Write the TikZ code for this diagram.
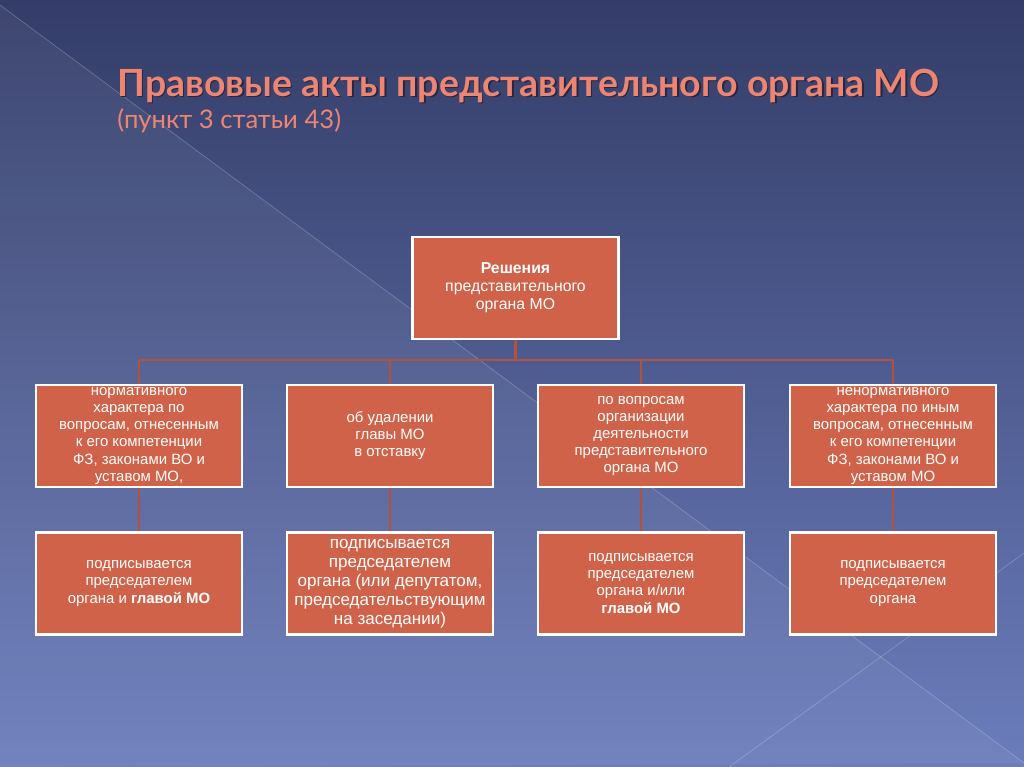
\documentclass[tikz,border=0pt]{standalone}
\usepackage{fontspec}
\setmainfont{Liberation Sans}
\newfontfamily\titlefont{Lato}
\usepackage{tikz}
\usetikzlibrary{positioning}

\definecolor{slidetop}{HTML}{343D68}
\definecolor{slidebottom}{HTML}{6B7DBC}
\definecolor{boxfill}{HTML}{CF6249}
\definecolor{linkred}{HTML}{B5503F}
\definecolor{titlered}{HTML}{EC8572}
\definecolor{titleshade}{HTML}{2A2540}

\tikzset{
  actbox/.style={draw=white, line width=1.6pt, fill=boxfill, text=white,
    minimum width=4.12cm, minimum height=2.04cm, inner sep=1pt, align=center,
    font=\fontsize{8.5}{9.7}\selectfont},
  link/.style={draw=linkred, line width=1.6pt},
  deco/.style={draw=white, opacity=0.22, line width=0.4pt},
  headline/.style={anchor=base west, inner sep=0pt}
}

\begin{document}
\begin{tikzpicture}[x=0.02cm, y=-0.02cm]
    % slide background
    \shade[top color=slidetop, bottom color=slidebottom] (0,0) rectangle (1024,767);
    \useasboundingbox (0,0) rectangle (1024,767);

    % lighter wedge and the thin lines over it
    \fill[white, opacity=0.05] (0,5) -- (1024,763) -- (0,767) -- cycle;
    \draw[deco] (0,5) -- (1024,763);
    \draw[deco] (1024,553) -- (729,767);

    % title with its shadow
    \node[headline, text=titleshade, font=\titlefont\bfseries\fontsize{21.3}{25}\selectfont] (titleshadow) at (118.5,97.5) {Правовые акты представительного органа МО};
    \node[headline, text=titlered, font=\titlefont\bfseries\fontsize{21.3}{25}\selectfont] (title) at (117,96) {Правовые акты представительного органа МО};
    \node[headline, text=titlered, font=\titlefont\fontsize{14.6}{17}\selectfont] (subtitle) at (117,129) {(пункт 3 статьи 43)};

    % the top box
    \node[actbox, font=\fontsize{9}{10.3}\selectfont] (decision) at (515.5,288) {\textbf{Решения}\\представительного\\органа МО};

    % four kinds of decisions
    \node[actbox] (normative) at (139,436) {нормативного\\характера по\\вопросам, отнесенным\\к его компетенции\\ФЗ, законами ВО и\\уставом МО,};
    \node[actbox] (dismissal) at (390,436) {об удалении\\главы МО\\в отставку};
    \node[actbox] (activity) at (641,436) {по вопросам\\организации\\деятельности\\представительного\\органа МО};
    \node[actbox] (nonnormative) at (893,436) {ненормативного\\характера по иным\\вопросам, отнесенным\\к его компетенции\\ФЗ, законами ВО и\\уставом МО};

    % who signs each of them
    \node[actbox] (normsign) at (139,583.5) {подписывается\\председателем\\органа и \textbf{главой МО}};
    \node[actbox, font=\fontsize{9.7}{10.9}\selectfont] (dismisssign) at (390,583.5) {подписывается\\председателем\\органа (или депутатом,\\председательствующим\\на заседании)};
    \node[actbox] (activitysign) at (641,583.5) {подписывается\\председателем\\органа и/или\\\textbf{главой МО}};
    \node[actbox] (nonnormsign) at (893,583.5) {подписывается\\председателем\\органа};

    % connectors
    \coordinate (fork) at (515.5,360);
    \draw[link] (decision.south) -- (fork);
    \draw[link] (fork -| normative) -- (fork -| nonnormative);
    \foreach \kind in {normative, dismissal, activity, nonnormative}
      \draw[link] (fork -| \kind) -- (\kind.north);
    \draw[link] (normative.south) -- (normsign.north);
    \draw[link] (dismissal.south) -- (dismisssign.north);
    \draw[link] (activity.south) -- (activitysign.north);
    \draw[link] (nonnormative.south) -- (nonnormsign.north);

\end{tikzpicture}
\end{document}
